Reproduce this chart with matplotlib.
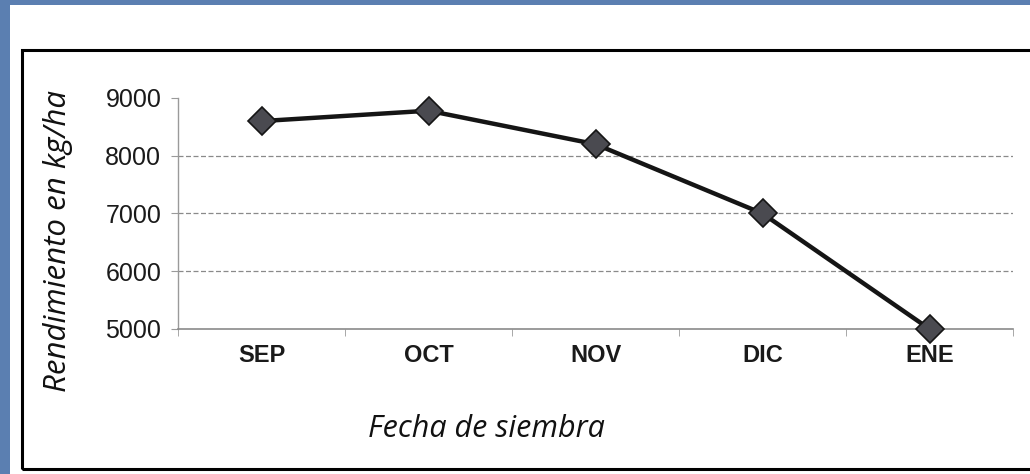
import matplotlib
matplotlib.use("Agg")
import matplotlib.pyplot as plt
from matplotlib.patches import Rectangle

# data
meses = ["SEP", "OCT", "NOV", "DIC", "ENE"]
rendimiento = [8600, 8780, 8200, 7000, 5000]
y_ticks = [5000, 6000, 7000, 8000, 9000]

fig = plt.figure(figsize=(10.30, 4.74), dpi=100)
fig.patch.set_facecolor("#5b7fb1")

# white page and the black frame around the chart
fig.patches.append(Rectangle((10/1030, 0), 1.0, 1 - 5/474, transform=fig.transFigure,
                             facecolor="white", edgecolor="none", zorder=-2))
fig.patches.append(Rectangle((22/1030, 5/474), 1.0, (469 - 50)/474, transform=fig.transFigure,
                             facecolor="none", edgecolor="black", linewidth=2.2, zorder=-1))

ax = fig.add_axes([178/1030, 1 - 329/474, (1013 - 178)/1030, (329 - 98)/474])
ax.set_zorder(2)
ax.set_facecolor("none")

x = list(range(len(meses)))
ax.plot(x, rendimiento, color="#151515", linewidth=3.2, marker="D", markersize=14,
        markerfacecolor="#4a4a50", markeredgecolor="#151515", markeredgewidth=1.2,
        clip_on=False, zorder=3)

ax.set_xlim(-0.5, len(meses) - 0.5)
ax.set_ylim(5000, 9000)

for v in [6000, 7000, 8000]:
    ax.axhline(v, color="#8a8a8a", linewidth=0.9, linestyle=(0, (4, 2)), zorder=1)

for s in ["top", "right"]:
    ax.spines[s].set_visible(False)
ax.spines["left"].set_color("#9a9a9a")
ax.spines["bottom"].set_color("#8a8a8a")
ax.spines["left"].set_linewidth(1.0)
ax.spines["bottom"].set_linewidth(1.2)

ax.set_yticks(y_ticks)
ax.set_yticklabels([str(v) for v in y_ticks], fontsize=18, family="Liberation Sans", color="#1a1a1a")
ax.tick_params(axis="y", length=5, color="#9a9a9a", pad=7)

ax.set_xticks(x)
ax.set_xticklabels(meses, fontsize=17, family="Liberation Sans", fontweight="bold", color="#1a1a1a")
ax.tick_params(axis="x", which="major", length=0, pad=11)
ax.set_xticks([i - 0.5 for i in range(len(meses) + 1)], minor=True)
ax.tick_params(axis="x", which="minor", length=5, color="#9a9a9a")

ax.set_ylabel("Rendimiento en kg/ha", fontsize=22.5, style="italic", family="Open Sans", color="#111111")
ax.yaxis.set_label_coords(-0.126, 0.381)
ax.set_xlabel("Fecha de siembra", fontsize=22, style="italic", family="Open Sans", color="#111111")
ax.xaxis.set_label_coords(0.369, -0.37)

fig.savefig("out.png", dpi=100, facecolor=fig.get_facecolor())
